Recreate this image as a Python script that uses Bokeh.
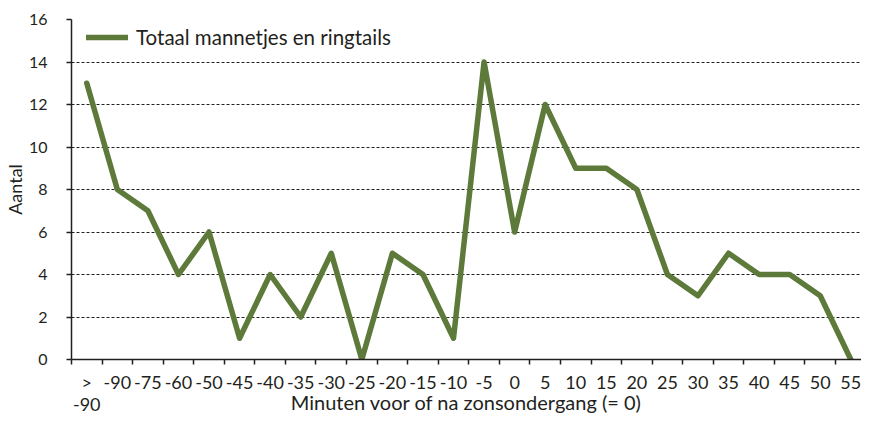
from bokeh.plotting import figure
from bokeh.models import Range1d, FixedTicker, Legend, LegendItem, ColumnDataSource
from bokeh.embed import file_html
from bokeh.resources import INLINE

# ---- data -------------------------------------------------------------
categories = [">\n-90", "-90", "-75", "-60", "-50", "-45", "-40", "-35", "-30",
              "-25", "-20", "-15", "-10", "-5", "0", "5", "10", "15", "20",
              "25", "30", "35", "40", "45", "50", "55"]
values = [13, 8, 7, 4, 6, 1, 4, 2, 5, 0, 5, 4, 1, 14, 6, 12, 9, 9, 8,
          4, 3, 5, 4, 4, 3, 0]
y_ticks = [0, 2, 4, 6, 8, 10, 12, 14, 16]
series_name = "Totaal mannetjes en ringtails"
x_title = "Minuten voor of na zonsondergang (= 0)"
y_title = "Aantal"

GREEN = "#5E7A3B"
INK = "#231F20"

xs = list(range(len(categories)))
src = ColumnDataSource(dict(x=xs, y=values))

p = figure(width=861, height=416, output_backend="svg", toolbar_location=None,
           x_range=Range1d(-0.5, 25.35), y_range=Range1d(0, 16),
           min_border_left=69, min_border_right=0, min_border_top=19,
           min_border_bottom=0)
p.outline_line_color = None
p.background_fill_color = "white"
p.border_fill_color = "white"

r = p.line("x", "y", source=src, line_color=GREEN, line_width=5.5,
           line_join="round", line_cap="round")

# x axis: labels at category centres, tick marks at category boundaries
xa = p.xaxis[0]
xa.ticker = FixedTicker(ticks=xs, minor_ticks=[i - 0.5 for i in range(len(categories) + 1)])
xa.major_label_overrides = {i: c for i, c in enumerate(categories)}
xa.major_tick_out = 0
xa.major_tick_in = 0
xa.minor_tick_out = 5
xa.minor_tick_in = 0
xa.minor_tick_line_color = INK
xa.minor_tick_line_width = 1.5
xa.axis_line_color = INK
xa.axis_line_width = 1.5
xa.major_label_standoff = 6
xa.major_label_text_font = "Lato"
xa.major_label_text_font_size = "18px"
xa.major_label_text_line_height = 1.0
xa.major_label_text_color = INK
xa.axis_label = x_title
xa.axis_label_text_font = "Lato"
xa.axis_label_text_font_size = "20px"
xa.axis_label_text_font_style = "normal"
xa.axis_label_text_color = INK
xa.axis_label_standoff = -28

ya = p.yaxis[0]
ya.ticker = FixedTicker(ticks=y_ticks)
ya.minor_tick_line_color = None
ya.major_tick_out = 5
ya.major_tick_in = 0
ya.major_tick_line_color = INK
ya.major_tick_line_width = 1.5
ya.axis_line_color = INK
ya.axis_line_width = 1.5
ya.major_label_standoff = 19
ya.major_label_text_font = "Lato"
ya.major_label_text_font_size = "16px"
ya.major_label_text_color = INK
ya.axis_label = y_title
ya.axis_label_text_font = "Lato"
ya.axis_label_text_font_size = "18px"
ya.axis_label_text_font_style = "normal"
ya.axis_label_text_color = INK
ya.axis_label_standoff = 0

p.xgrid.grid_line_color = None
p.ygrid.grid_line_color = "#222222"
p.ygrid.grid_line_width = 1
p.ygrid.grid_line_dash = "3 2"

legend = Legend(items=[LegendItem(label=series_name, renderers=[r])],
                location=(15, 310), margin=0, padding=0,
                glyph_width=42, glyph_height=24, label_height=24,
                label_standoff=8, label_text_font="Lato",
                label_text_font_size="20.5px", label_text_color=INK,
                border_line_color=None, background_fill_alpha=0)
p.add_layout(legend, "center")

open("out.html", "w").write(file_html(p, INLINE))
